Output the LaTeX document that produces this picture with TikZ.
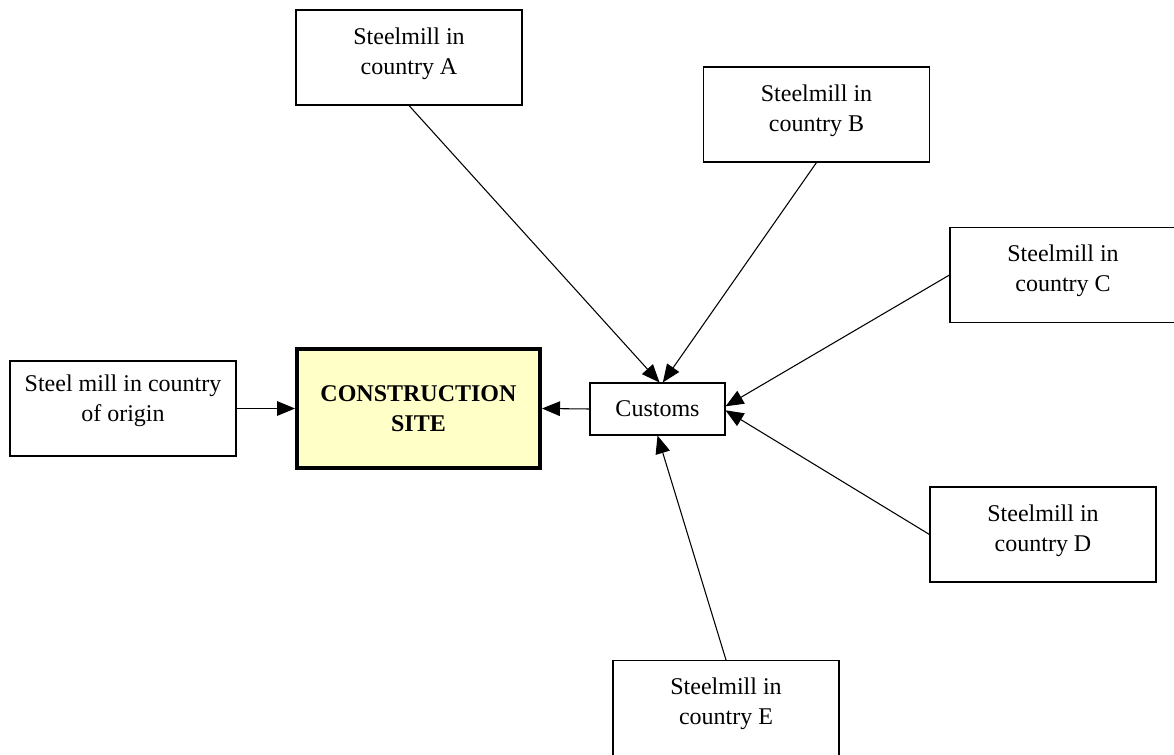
\documentclass[tikz,border=0pt]{standalone}
\usepackage{fontspec}
\setmainfont{Liberation Serif}
\usetikzlibrary{arrows.meta}
\definecolor{siteyellow}{RGB}{255,255,200}
\begin{document}
\begin{tikzpicture}[x=0.75pt,y=-0.75pt,
    every node/.style={font=\fontsize{18}{22.5}\selectfont},
    mill/.style={draw,line width=0.8pt,minimum width=169.5pt,minimum height=71.25pt,
      inner sep=0pt,align=center,text depth=10pt},
    flow/.style={-{Triangle[length=13.5pt,width=11pt]},line width=0.8pt}]
  \useasboundingbox (0,0) rectangle (1174,755);
  % the mills abroad
  \node[mill] (milla) at (409,57.5) {Steelmill in\\country A};
  \node[mill] (millb) at (816.5,114.5) {Steelmill in\\country B};
  \node[mill] (millc) at (1063,275) {Steelmill in\\country C};
  \node[mill] (milld) at (1043,534.5) {Steelmill in\\country D};
  \node[mill] (mille) at (726,708) {Steelmill in\\country E};
  \node[mill,text depth=16pt] (origin) at (123,408.5) {Steel mill in country\\of origin};
  % site and customs
  \node[draw,line width=3pt,fill=siteyellow,minimum width=182.25pt,minimum height=89.25pt,
    align=center,font=\fontsize{18}{22.5}\selectfont\bfseries] (site) at (418.5,408.5) {CONSTRUCTION\\SITE};
  \node[draw,line width=0.8pt,minimum width=101.25pt,minimum height=39pt] (customs) at (657.5,409) {Customs};
  \draw[flow] (origin.east) -- (site.west);
  \draw[flow] (customs.west) -- (site.east);
  \draw[flow] (milla.south) -- ([xshift=1.5pt]customs.north);
  \draw[flow] (millb.south) -- ([xshift=4pt]customs.north);
  \draw[flow] (millc.west) -- ([yshift=2pt]customs.east);
  \draw[flow] (milld.west) -- ([yshift=-1pt]customs.east);
  \draw[flow] (mille.north) -- (customs.south);
\end{tikzpicture}
\end{document}
